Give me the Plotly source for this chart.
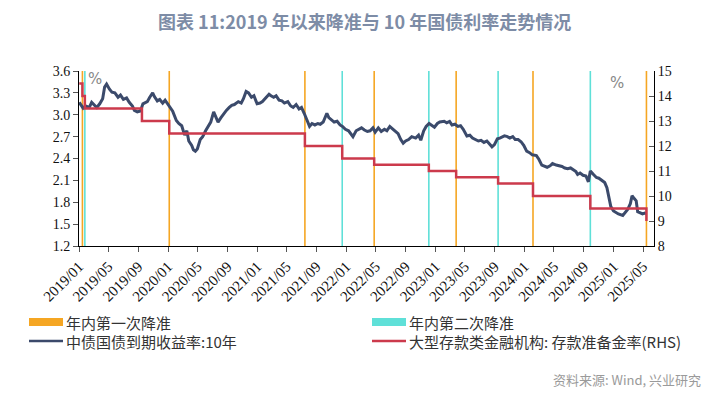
import plotly.graph_objects as go

# ---------------- data ----------------
bond_dates = [
    "2019-01-02", "2019-01-10", "2019-01-18", "2019-01-28", "2019-02-12", "2019-02-22", "2019-03-05",
    "2019-03-15", "2019-03-27", "2019-04-08", "2019-04-16", "2019-04-24", "2019-05-06", "2019-05-16",
    "2019-05-28", "2019-06-10", "2019-06-20", "2019-07-02", "2019-07-15", "2019-07-26", "2019-08-08",
    "2019-08-16", "2019-08-28", "2019-09-10", "2019-09-20", "2019-10-08", "2019-10-18", "2019-10-30",
    "2019-11-06", "2019-11-18", "2019-11-28", "2019-12-10", "2019-12-20", "2019-12-31",
    "2020-01-10", "2020-01-20", "2020-02-04", "2020-02-14", "2020-02-26", "2020-03-09", "2020-03-18",
    "2020-03-26", "2020-04-07", "2020-04-14", "2020-04-22", "2020-04-30", "2020-05-12", "2020-05-22",
    "2020-06-03", "2020-06-15", "2020-06-24", "2020-07-06", "2020-07-14", "2020-07-24", "2020-08-05",
    "2020-08-17", "2020-08-27", "2020-09-08", "2020-09-18", "2020-09-29", "2020-10-15", "2020-10-27",
    "2020-11-05", "2020-11-16", "2020-11-26", "2020-12-08", "2020-12-18", "2020-12-31",
    "2021-01-12", "2021-01-22", "2021-02-02", "2021-02-18", "2021-02-26", "2021-03-09", "2021-03-19",
    "2021-03-31", "2021-04-12", "2021-04-22", "2021-05-06", "2021-05-18", "2021-05-28", "2021-06-09",
    "2021-06-21", "2021-07-01", "2021-07-12", "2021-07-22", "2021-08-03", "2021-08-13", "2021-08-25",
    "2021-09-06", "2021-09-16", "2021-09-28", "2021-10-13", "2021-10-21", "2021-11-02", "2021-11-12",
    "2021-11-24", "2021-12-06", "2021-12-16", "2021-12-28",
    "2022-01-10", "2022-01-20", "2022-01-28", "2022-02-10", "2022-02-22", "2022-03-04", "2022-03-16",
    "2022-03-28", "2022-04-08", "2022-04-20", "2022-04-29", "2022-05-12", "2022-05-24", "2022-06-06",
    "2022-06-16", "2022-06-28", "2022-07-08", "2022-07-20", "2022-08-01", "2022-08-12", "2022-08-22",
    "2022-09-01", "2022-09-13", "2022-09-26", "2022-10-12", "2022-10-24", "2022-11-02", "2022-11-14",
    "2022-11-24", "2022-12-06", "2022-12-16", "2022-12-28",
    "2023-01-09", "2023-01-19", "2023-02-06", "2023-02-16", "2023-02-28", "2023-03-10", "2023-03-22",
    "2023-04-03", "2023-04-14", "2023-04-25", "2023-05-10", "2023-05-22", "2023-06-02", "2023-06-14",
    "2023-06-26", "2023-07-07", "2023-07-19", "2023-07-31", "2023-08-10", "2023-08-21", "2023-08-31",
    "2023-09-12", "2023-09-22", "2023-10-11", "2023-10-23", "2023-11-02", "2023-11-14", "2023-11-24",
    "2023-12-06", "2023-12-18", "2023-12-29",
    "2024-01-10", "2024-01-22", "2024-02-02", "2024-02-19", "2024-02-29", "2024-03-12", "2024-03-22",
    "2024-04-03", "2024-04-15", "2024-04-25", "2024-05-10", "2024-05-22", "2024-06-03", "2024-06-14",
    "2024-06-26", "2024-07-08", "2024-07-18", "2024-07-30", "2024-08-06", "2024-08-16", "2024-08-28",
    "2024-09-09", "2024-09-19", "2024-09-27", "2024-10-10", "2024-10-22", "2024-11-01", "2024-11-13",
    "2024-11-25", "2024-12-04", "2024-12-12", "2024-12-20", "2024-12-31",
    "2025-01-10", "2025-01-20", "2025-02-07", "2025-02-18", "2025-02-27", "2025-03-10", "2025-03-17",
    "2025-03-26", "2025-04-03", "2025-04-09", "2025-04-18", "2025-04-29", "2025-05-08", "2025-05-14",
]
bond_vals = [
    3.17, 3.13, 3.09, 3.12, 3.10, 3.17, 3.14,
    3.10, 3.15, 3.22, 3.38, 3.42, 3.35, 3.31,
    3.30, 3.24, 3.27, 3.21, 3.23, 3.17, 3.12,
    3.06, 3.04, 3.05, 3.15, 3.18, 3.24, 3.30,
    3.25, 3.19, 3.21, 3.16, 3.20, 3.14,
    3.10, 3.05, 2.92, 2.88, 2.85, 2.72, 2.78,
    2.64, 2.58, 2.52, 2.50, 2.53, 2.66, 2.70,
    2.78, 2.86, 2.90, 3.04, 2.98, 2.90, 2.96,
    3.02, 3.06, 3.10, 3.13, 3.14, 3.18, 3.16,
    3.22, 3.32, 3.30, 3.24, 3.26, 3.15,
    3.16, 3.18, 3.22, 3.28, 3.26, 3.24, 3.26,
    3.20, 3.19, 3.16, 3.18, 3.12, 3.10, 3.14,
    3.08, 3.10, 3.02, 2.93, 2.84, 2.88, 2.86,
    2.88, 2.87, 2.90, 3.02, 2.96, 2.93, 2.90,
    2.91, 2.86, 2.84, 2.80,
    2.78, 2.74, 2.70, 2.78, 2.80, 2.82, 2.79,
    2.77, 2.78, 2.82, 2.76, 2.82, 2.77, 2.80,
    2.78, 2.84, 2.81, 2.78, 2.74, 2.66, 2.61,
    2.64, 2.66, 2.70, 2.68, 2.72, 2.65, 2.78,
    2.84, 2.88, 2.86, 2.83,
    2.88, 2.90, 2.91, 2.89, 2.91, 2.86, 2.87,
    2.84, 2.85, 2.80, 2.71, 2.72, 2.68, 2.66,
    2.64, 2.65, 2.62, 2.64, 2.60, 2.56, 2.59,
    2.67, 2.68, 2.71, 2.70, 2.68, 2.70, 2.66,
    2.66, 2.63, 2.58,
    2.50, 2.48, 2.45, 2.44, 2.39, 2.31, 2.30,
    2.28, 2.30, 2.33, 2.31, 2.30, 2.29, 2.27,
    2.26, 2.27, 2.25, 2.22, 2.18, 2.20, 2.17,
    2.16, 2.08, 2.23, 2.18, 2.14, 2.13, 2.10,
    2.07, 2.00, 1.87, 1.74, 1.68,
    1.66, 1.64, 1.62, 1.67, 1.70, 1.78, 1.89,
    1.85, 1.82, 1.67, 1.66, 1.64, 1.65, 1.64,
]

rrr_dates = [
    "2019-01-02", "2019-01-15", "2019-01-25", "2019-09-16", "2020-01-06", "2021-07-15",
    "2021-12-15", "2022-04-25", "2022-12-05", "2023-03-27", "2023-09-15", "2024-02-05",
    "2024-09-27", "2025-05-15",
]
rrr_vals = [14.5, 14.0, 13.5, 13.0, 12.5, 12.0, 11.5, 11.25, 11.0, 10.75, 10.5, 10.0, 9.5, 9.0]

first_cut_dates = ["2019-01-15", "2020-01-06", "2021-07-15", "2022-04-25", "2023-03-27",
                   "2024-02-05", "2025-05-15"]
second_cut_dates = ["2019-01-25", "2021-12-15", "2022-12-05", "2023-09-15", "2024-09-27"]

x_range = ["2019-01-01", "2025-06-15"]
left_range = [1.2, 3.6]
right_range = [8, 15]

title_text = "图表 11:2019 年以来降准与 10 年国债利率走势情况"
legend_labels = ["年内第一次降准", "年内第二次降准", "中债国债到期收益率:10年",
                 "大型存款类金融机构: 存款准备金率(RHS)"]
source_text = "资料来源: Wind, 兴业研究"

# ---------------- style ----------------
NAVY = "#3b4a6b"
RED = "#cc3a4c"
ORANGE = "#f5a623"
CYAN = "#5fe0d8"
OFF = 8                      # default page body margin in the browser
W, H = 728 - OFF, 394 - OFF  # figure size so it fills the window
# target plot area in window pixels: x 79..654, y 71..246
L, R, T, B = 79 - OFF, 728 - 654, 71 - OFF, 394 - 246
PW, PH = W - L - R, H - T - B


def px(x):
    """window pixel x -> paper"""
    return (x - OFF - L) / PW


def py(y):
    """window pixel y -> paper"""
    return (T + PH - (y - OFF)) / PH


TICKFONT = dict(family="Liberation Serif", size=15, color="#111")
YTICKFONT = dict(family="Liberation Serif", size=14, color="#111")
CJK = "Noto Sans CJK SC"

fig = go.Figure()
fig.add_trace(go.Scatter(x=bond_dates, y=bond_vals, mode="lines",
                         line=dict(color=NAVY, width=3), yaxis="y", showlegend=False))
fig.add_trace(go.Scatter(x=rrr_dates, y=rrr_vals, mode="lines",
                         line=dict(color=RED, width=2.5, shape="hv"), yaxis="y2", showlegend=False))

for d in first_cut_dates:
    fig.add_shape(type="line", x0=d, x1=d, y0=0, y1=1, xref="x", yref="paper",
                  line=dict(color=ORANGE, width=1.6), layer="below")
for d in second_cut_dates:
    fig.add_shape(type="line", x0=d, x1=d, y0=0, y1=1, xref="x", yref="paper",
                  line=dict(color=CYAN, width=1.6), layer="below")

# custom legend
legend_items = [
    (legend_labels[0], ORANGE, "box", 29, 322),
    (legend_labels[1], CYAN, "box", 372, 322),
    (legend_labels[2], NAVY, "line", 29, 341),
    (legend_labels[3], RED, "line", 372, 341),
]
for label, color, kind, x0, yc in legend_items:
    if kind == "box":
        fig.add_shape(type="rect", xref="paper", yref="paper", x0=px(x0), x1=px(x0 + 34),
                      y0=py(yc - 4), y1=py(yc + 4), line=dict(width=0), fillcolor=color)
    else:
        fig.add_shape(type="line", xref="paper", yref="paper", x0=px(x0), x1=px(x0 + 34),
                      y0=py(yc), y1=py(yc), line=dict(color=color, width=2.5))
    fig.add_annotation(text=label, xref="paper", yref="paper", x=px(x0 + 35), y=py(yc),
                       xanchor="left", yanchor="middle", showarrow=False,
                       font=dict(family=CJK, size=15, color="#333"))

fig.add_annotation(text="%", xref="paper", yref="paper", x=px(95), y=py(79), showarrow=False,
                   xanchor="center", yanchor="middle", font=dict(family="DejaVu Sans", size=15, color="#888"))
fig.add_annotation(text="%", xref="paper", yref="paper", x=px(617), y=py(83), showarrow=False,
                   xanchor="center", yanchor="middle", font=dict(family="DejaVu Sans", size=15, color="#888"))
fig.add_annotation(text=source_text, xref="paper", yref="paper", x=px(703), y=py(379),
                   xanchor="right", yanchor="middle", showarrow=False,
                   font=dict(family=CJK, size=13, color="#9a9a9a"))
# title
fig.add_annotation(text="<b>" + title_text + "</b>", xref="paper", yref="paper", x=px(364), y=py(21),
                   xanchor="center", yanchor="middle", showarrow=False,
                   font=dict(family=CJK, size=18, color="#7d8ca6"))

fig.update_layout(
    width=W, height=H,
    margin=dict(l=L, r=R, t=T, b=B, autoexpand=False),
    paper_bgcolor="white", plot_bgcolor="white",
    xaxis=dict(type="date", range=x_range, tick0="2019-01-01", dtick="M4", tickformat="%Y/%m",
               tickangle=-45, showgrid=False, zeroline=False, showline=True, linecolor="#000",
               linewidth=1, ticks="outside", ticklen=5, tickcolor="#555", tickfont=TICKFONT),
    yaxis=dict(range=left_range, dtick=0.3, tick0=1.2, tickformat=".1f", showgrid=False,
               zeroline=False, showline=True, linecolor="#000", linewidth=1, ticks="outside",
               ticklen=5, tickcolor="#555", tickfont=YTICKFONT),
    yaxis2=dict(range=right_range, dtick=1, tick0=8, overlaying="y", side="right", showgrid=False,
                zeroline=False, showline=True, linecolor="#000", linewidth=1, ticks="inside",
                ticklen=5, tickcolor="#555", tickfont=YTICKFONT),
)

fig.write_html("out.html")
